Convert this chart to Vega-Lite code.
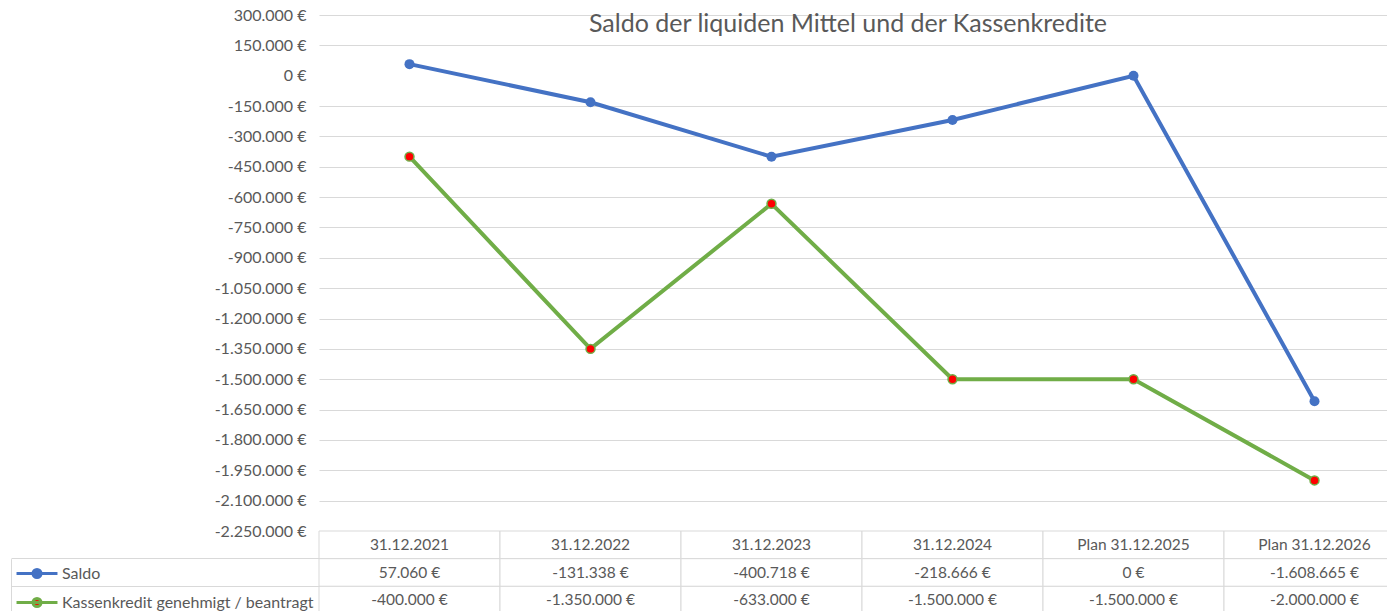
{
  "$schema": "https://vega.github.io/schema/vega-lite/v6.json",
  "background": "white",
  "padding": {"left": 10, "top": 7, "right": 0, "bottom": 0},
  "bounds": "flush",
  "spacing": 0,
  "resolve": {"scale": {"fill": "independent", "stroke": "independent"}, "legend": {"fill": "independent", "stroke": "independent"}},
  "config": {
    "locale": {"number": {"decimal": ",", "thousands": ".", "grouping": [3], "currency": ["", " €"], "minus": "-"}},
    "view": {"stroke": null},
    "font": "Lato"
  },
  "datasets": {
    "main": [
      {"date": "31.12.2021", "series": "Saldo", "value": 57060},
      {"date": "31.12.2022", "series": "Saldo", "value": -131338},
      {"date": "31.12.2023", "series": "Saldo", "value": -400718},
      {"date": "31.12.2024", "series": "Saldo", "value": -218666},
      {"date": "Plan 31.12.2025", "series": "Saldo", "value": 0},
      {"date": "Plan 31.12.2026", "series": "Saldo", "value": -1608665},
      {"date": "31.12.2021", "series": "Kassenkredit genehmigt / beantragt", "value": -400000},
      {"date": "31.12.2022", "series": "Kassenkredit genehmigt / beantragt", "value": -1350000},
      {"date": "31.12.2023", "series": "Kassenkredit genehmigt / beantragt", "value": -633000},
      {"date": "31.12.2024", "series": "Kassenkredit genehmigt / beantragt", "value": -1500000},
      {"date": "Plan 31.12.2025", "series": "Kassenkredit genehmigt / beantragt", "value": -1500000},
      {"date": "Plan 31.12.2026", "series": "Kassenkredit genehmigt / beantragt", "value": -2000000}
    ]
  },
  "vconcat": [
    {
      "width": 1086,
      "height": 516,
      "title": {"text": "Saldo der liquiden Mittel und der Kassenkredite", "font": "Lato", "fontSize": 25, "fontWeight": "normal", "color": "#595959", "anchor": "middle", "frame": "group", "baseline": "alphabetic", "offset": -50, "dx": -14},
      "data": {"name": "main"},
      "encoding": {
        "x": {"field": "date", "type": "nominal", "sort": null, "scale": {"type": "point", "padding": 0.5}, "axis": null},
        "y": {
          "field": "value", "type": "quantitative",
          "scale": {"domain": [-2250000, 300000], "nice": false, "zero": false},
          "axis": {
            "values": [300000, 150000, 0, -150000, -300000, -450000, -600000, -750000, -900000, -1050000, -1200000, -1350000, -1500000, -1650000, -1800000, -1950000, -2100000, -2250000],
            "format": "$,.0f", "title": null, "domain": false, "ticks": false, "labelPadding": 13,
            "labelFont": "Lato", "labelFontSize": 16, "labelColor": "#595959", "labelOverlap": false,
            "gridColor": {"condition": {"test": "datum.value === 0", "value": "transparent"}, "value": "#d9d9d9"},
            "gridWidth": 1
          }
        }
      },
      "layer": [
        {
          "mark": {"type": "line", "strokeWidth": 4},
          "encoding": {
            "stroke": {"field": "series", "type": "nominal", "scale": {"domain": ["Saldo", "Kassenkredit genehmigt / beantragt"], "range": ["#4472C4", "#70AD47"]}, "legend": null}
          }
        },
        {
          "transform": [{"filter": "datum.series === 'Saldo'"}],
          "mark": {"type": "point", "filled": true, "size": 100, "color": "#4472C4", "opacity": 1}
        },
        {
          "transform": [{"filter": "datum.series !== 'Saldo'"}],
          "mark": {"type": "point", "filled": true, "size": 80, "fill": "#FF0000", "stroke": "#70AD47", "strokeWidth": 1.5, "opacity": 1}
        }
      ]
    },
    {
      "width": 1086,
      "height": 83,
      "data": {"name": "main"},
      "layer": [
        {
          "transform": [{"filter": "datum.series === 'Saldo'"}],
          "mark": {"type": "rect", "fill": "white", "stroke": "#d9d9d9", "strokeWidth": 1},
          "encoding": {
            "x": {"field": "date", "type": "nominal", "sort": null, "scale": {"type": "band", "paddingInner": 0, "paddingOuter": 0}, "axis": null},
            "y": {"datum": "header", "type": "nominal", "scale": {"type": "band", "domain": ["header", "Saldo", "Kassenkredit genehmigt / beantragt"], "paddingInner": 0, "paddingOuter": 0},
              "axis": {"title": null, "labels": false, "domain": true, "domainColor": "#d9d9d9", "domainWidth": 1, "domainDash": [0, 27.7, 200], "offset": 308, "ticks": true, "tickSize": -308, "bandPosition": 0, "tickExtra": false, "grid": false, "tickWidth": 1,
                "tickColor": {"condition": {"test": "datum.value === 'header'", "value": "transparent"}, "value": "#d9d9d9"}}}
          }
        },
        {
          "mark": {"type": "rect", "fill": "white", "stroke": "#d9d9d9", "strokeWidth": 1},
          "encoding": {
            "x": {"field": "date", "type": "nominal", "sort": null},
            "y": {"field": "series", "type": "nominal"}
          }
        },
        {
          "transform": [{"filter": "datum.series === 'Saldo'"}],
          "mark": {"type": "text", "font": "Lato", "fontSize": 15.5, "color": "#595959"},
          "encoding": {
            "x": {"field": "date", "type": "nominal", "sort": null},
            "y": {"datum": "header", "type": "nominal"},
            "text": {"field": "date", "type": "nominal"}
          }
        },
        {
          "mark": {"type": "text", "font": "Lato", "fontSize": 15.5, "color": "#595959"},
          "encoding": {
            "x": {"field": "date", "type": "nominal", "sort": null},
            "y": {"field": "series", "type": "nominal"},
            "text": {"field": "value", "type": "quantitative", "format": "$,.0f"}
          }
        },
        {
          "mark": {"type": "point", "filled": true, "opacity": 0},
          "encoding": {
            "x": {"field": "date", "type": "nominal", "sort": null},
            "y": {"field": "series", "type": "nominal"},
            "fill": {"field": "series", "type": "nominal", "scale": {"domain": ["Saldo", "Kassenkredit genehmigt / beantragt"], "range": ["#4472C4", "#FF0000"]},
              "legend": {"orient": "none", "legendX": -291.5, "legendY": 33, "direction": "vertical", "title": null,
                "symbolType": "M-2.56,0L2.56,0M0.5,0A0.5,0.5,0,1,1,-0.5,0A0.5,0.5,0,1,1,0.5,0Z", "symbolSize": 256, "symbolStrokeWidth": 3,
                "labelFont": "Lato", "labelFontSize": 16, "labelColor": "#595959", "labelOffset": 15.5, "labelLimit": 0, "rowPadding": 8, "padding": 0, "symbolOpacity": 1,
                "encode": {"symbols": {"update": {"stroke": {"signal": "datum.label === 'Saldo' ? '#4472C4' : '#70AD47'"}, "opacity": {"value": 1}}}}}}
          }
        }
      ]
    }
  ]
}
